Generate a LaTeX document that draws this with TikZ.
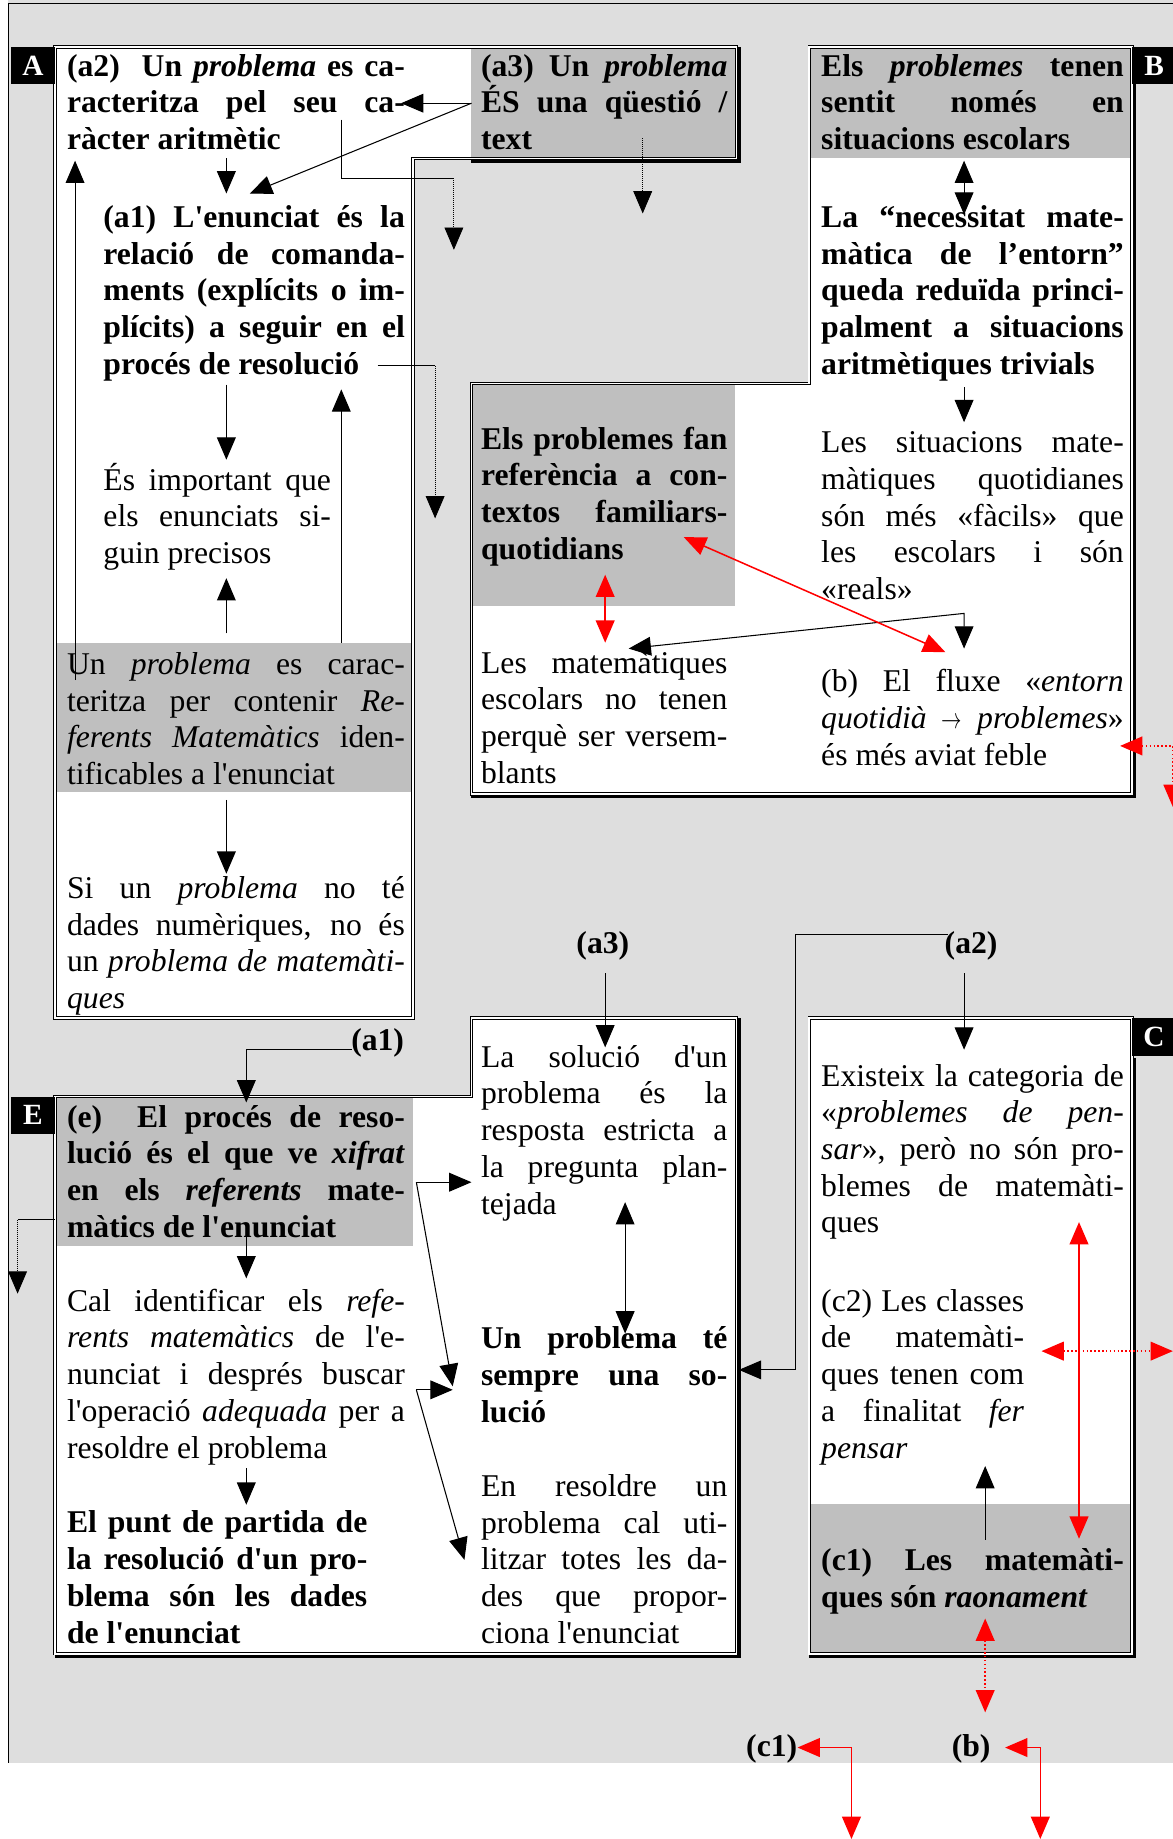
\documentclass[tikz,border=0pt]{standalone}
\usepackage{fontspec}
\setmainfont{Liberation Serif}[Ligatures=TeXOff]
\usepackage{tikz}
\usetikzlibrary{arrows.meta}

\definecolor{fons}{gray}{0.87}
\definecolor{gris}{gray}{0.75}

\tolerance=10000 \hbadness=10000 \hyphenpenalty=10000

\tikzset{
  txt/.style={anchor=base west, inner sep=0pt, text width=#1, align=justify,
    font=\fontsize{27}{31.3}\selectfont},
  txtb/.style={txt=#1, font=\fontsize{27}{31.3}\selectfont\bfseries},
  etiq/.style={fill=black, text=white, inner sep=0pt, minimum width=38pt,
    minimum height=32pt, font=\fontsize{25}{25}\selectfont\bfseries},
  crida/.style={anchor=base, inner sep=0pt, font=\fontsize{27}{31.3}\selectfont\bfseries},
  vora/.style={double, line width=0.8pt, double distance=1.4pt},
  ombra/.style={line width=2.6pt},
  fl/.style={line width=0.9pt, -{Triangle[length=19pt,width=16pt]}},
  dfl/.style={line width=0.9pt, {Triangle[length=19pt,width=16pt]}-{Triangle[length=19pt,width=16pt]}},
  vm/.style={red, line width=1.3pt},
}

\begin{document}
\begin{tikzpicture}[x=1pt,y=-1pt]
\useasboundingbox (0,0) rectangle (1000,1568);
\fill[fons] (7,0) rectangle (1000,1503);                          % fons
\draw[line width=1.2pt] (1000,3) -- (7,3) -- (7,1503);            %

% blocs A, B, E i C
\fill[white] (47,40) -- (628,40) -- (628,135) -- (352,135) -- (352,868) -- (47,868) -- cycle;
\fill[gris]  (402,40) rectangle (628,135);                        %(a3)
\fill[gris]  (47,548) rectangle (352,675);                        %
\fill[white] (690,40) -- (965,40) -- (965,677) -- (402,677) -- (402,327) -- (690,327) -- cycle;
\fill[gris]  (690,40) rectangle (965,135);                        %
\fill[gris]  (402,327) rectangle (627,517);                       %
\fill[white] (402,868) -- (628,868) -- (628,1410) -- (47,1410) -- (47,935) -- (402,935) -- cycle;
\fill[gris]  (47,935) rectangle (352,1062);                       %(e)
\fill[white] (690,868) rectangle (965,1410);                      %
\fill[gris]  (690,1282) rectangle (965,1410);                     %(c1)
\draw[vora]  (47,40) -- (628,40) -- (628,135) -- (352,135) -- (352,868) -- (47,868) -- cycle;
\draw[vora]  (690,40) -- (965,40) -- (965,677) -- (402,677) -- (402,327) -- (690,327) -- cycle;
\draw[vora]  (402,868) -- (628,868) -- (628,1410) -- (47,1410) -- (47,935) -- (402,935) -- cycle;
\draw[vora]  (690,868) rectangle (965,1410);                      %
\draw[ombra] (402,137.5) -- (630.5,137.5) -- (630.5,40);          %
\draw[ombra] (402,679.5) -- (967.5,679.5) -- (967.5,72);          %
\draw[ombra] (47,1412.5) -- (630.5,1412.5) -- (630.5,868);        %
\draw[ombra] (690,1412.5) -- (967.5,1412.5) -- (967.5,902);       %

\node[etiq] (A) at (28,56)   {A};
\node[etiq] (B) at (984,56)  {B};
\node[etiq] (C) at (984,884) {C};
\node[etiq] (E) at (28,951)  {E};

% bloc A
\node[txtb=288pt] (a2txt) at (57,65) {(a2)\ \ Un \textit{problema} es ca-\linebreak racteritza pel seu ca-\linebreak ràcter aritmètic};
\node[txtb=210pt] (a3txt) at (410,65) {(a3) Un \textit{problema}\linebreak ÉS una qüestió /\linebreak text};
\node[txtb=257pt] (a1txt) at (88,194) {(a1) L'enunciat és la\linebreak relació de comanda-\linebreak ments (explícits o im-\linebreak plícits) a seguir en el\linebreak procés de resolució};
\node[txt=194pt]  (precis) at (88,418) {És important que\linebreak els enunciats si-\linebreak guin precisos};
\node[txt=288pt]  (refer) at (57,575) {Un \textit{problema} es carac-\linebreak teritza per contenir \textit{Re-}\linebreak \textit{ferents Matemàtics} iden-\linebreak tificables a l'enunciat};
\node[txt=288pt]  (numer) at (57,766) {Si un \textit{problema} no té\linebreak dades numèriques, no és\linebreak un \textit{problema de matemàti-}\linebreak \textit{ques}};

% bloc B
\node[txtb=258pt] (btop) at (700,65) {Els \textit{problemes} tenen\linebreak sentit només en\linebreak situacions escolars};
\node[txtb=258pt] (necess) at (700,194) {La “necessitat mate-\linebreak màtica de l’entorn”\linebreak queda reduïda princi-\linebreak palment a situacions\linebreak aritmètiques trivials};
\node[txt=258pt]  (situa) at (700,386) {Les situacions mate-\linebreak màtiques quotidianes\linebreak són més «fàcils» que\linebreak les escolars i són\linebreak «reals»};
\node[txtb=210pt] (famil) at (410,383) {Els problemes fan\linebreak referència a con-\linebreak textos familiars-\linebreak quotidians};
\node[txt=210pt]  (escol) at (410,574) {Les matemàtiques\linebreak escolars no tenen\linebreak perquè ser versem-\linebreak blants};
\node[txt=258pt]  (fluxe) at (700,590) {(b) El fluxe «\textit{entorn}\linebreak \textit{quotidià} \scalebox{0.7}[1]{$\rightarrow$} \textit{problemes}»\linebreak és més aviat feble};

% crides
\node[crida] (la3) at (514,813) {(a3)};
\node[crida] (la2) at (828,813) {(a2)};
\node[crida] (la1) at (322,896) {(a1)};
\node[crida] (lc1) at (658,1498) {(c1)};
\node[crida] (lb)  at (828,1498) {(b)};

% bloc E
\node[txtb=288pt] (etxt) at (57,961) {(e)\ \ El procés de reso-\linebreak lució és el que ve \textit{xifrat}\linebreak en els \textit{referents} mate-\linebreak màtics de l'enunciat};
\node[txt=288pt]  (cal) at (57,1118) {Cal identificar els \textit{refe-}\linebreak \textit{rents matemàtics} de l'e-\linebreak nunciat i després buscar\linebreak l'operació \textit{adequada} per a\linebreak resoldre el problema};
\node[txtb=256pt] (punt) at (57,1307) {El punt de partida de\linebreak la resolució d'un pro-\linebreak blema són les dades\linebreak de l'enunciat};
\node[txt=210pt]  (solucio) at (410,910) {La solució d'un\linebreak problema és la\linebreak resposta estricta a\linebreak la pregunta plan-\linebreak tejada};
\node[txtb=210pt] (sempre) at (410,1150) {Un problema té\linebreak sempre una so-\linebreak lució};
\node[txt=210pt]  (resold) at (410,1276) {En resoldre un\linebreak problema cal uti-\linebreak litzar totes les da-\linebreak des que propor-\linebreak ciona l'enunciat};

% bloc C
\node[txt=258pt]  (exist) at (700,926) {Existeix la categoria de\linebreak «\textit{problemes de pen-}\linebreak \textit{sar}», però no són pro-\linebreak blemes de matemàti-\linebreak ques};
\node[txt=173pt]  (c2txt) at (700,1118) {(c2) Les classes\linebreak de matemàti-\linebreak ques tenen com\linebreak a finalitat \textit{fer}\linebreak \textit{pensar}};
\node[txtb=258pt] (c1txt) at (700,1339) {(c1) Les matemàti-\linebreak ques són \textit{raonament}};

% punts d'enllac
\coordinate (a3s) at (402,88);   \coordinate (a2ca) at (342,88);  \coordinate (a1a) at (213,165);
\coordinate (a2s) at (193,135);  \coordinate (a1t) at (193,165);
\coordinate (a2v) at (291,102);  \coordinate (a2c) at (291,152); \coordinate (a2d) at (387,152); \coordinate (a2e) at (387,213);
\coordinate (a3d) at (548,118);  \coordinate (a3e) at (548,182);
\coordinate (refl) at (64,580);  \coordinate (a2b) at (64,137);
\coordinate (a1r) at (322,312);  \coordinate (a1c) at (371,312); \coordinate (a1e) at (371,442);
\coordinate (a1b) at (193,328);  \coordinate (prT) at (193,392);
\coordinate (refR) at (291,548); \coordinate (a1u) at (291,332);
\coordinate (refT) at (193,540); \coordinate (prB) at (193,493);
\coordinate (refB) at (193,682); \coordinate (numT) at (193,745);
\coordinate (la1s) at (300,895); \coordinate (la1c) at (210,895); \coordinate (eT) at (210,940);
\coordinate (eL) at (47,1040);   \coordinate (eC) at (15,1040);   \coordinate (eD) at (15,1103);
\coordinate (eB) at (210,1047);  \coordinate (calT) at (210,1090);
\coordinate (calB) at (210,1252);\coordinate (puntT) at (210,1283);
\coordinate (k1) at (355,1008);  \coordinate (solL) at (402,1008); \coordinate (semA) at (386,1182);
\coordinate (k2) at (355,1185);  \coordinate (semB) at (386,1185); \coordinate (resA) at (396,1330);
\coordinate (la3s) at (516,830); \coordinate (solT) at (516,893);
\coordinate (solB) at (533,1025);\coordinate (semT) at (533,1137);
\coordinate (la2w) at (808,797); \coordinate (la2c) at (678,797); \coordinate (la2d) at (678,1168); \coordinate (semR) at (630,1168);
\coordinate (la2s) at (822,830); \coordinate (exT) at (822,895);
\coordinate (exB) at (920,1042); \coordinate (c1T) at (920,1312);
\coordinate (c2R) at (888,1152); \coordinate (vR) at (1000,1152);
\coordinate (c1u) at (840,1313); \coordinate (c2B) at (840,1250);
\coordinate (c1B) at (840,1380); \coordinate (c1d) at (840,1460);
\coordinate (lc1t) at (680,1490);\coordinate (lc1c) at (726,1490); \coordinate (lc1d) at (726,1568);
\coordinate (lbt) at (857,1490); \coordinate (lbc) at (887,1490);  \coordinate (lbd) at (887,1568);
\coordinate (btB) at (822,137);  \coordinate (neT) at (822,183);
\coordinate (neB) at (822,330);  \coordinate (siT) at (822,360);
\coordinate (esT) at (536,553);  \coordinate (siB) at (822,523);  \coordinate (flT) at (822,553);
\coordinate (faR) at (583,458);  \coordinate (flL) at (806,556);
\coordinate (faB) at (516,490);  \coordinate (esU) at (516,548);
\coordinate (flR) at (955,636);  \coordinate (vF) at (1000,636);  \coordinate (vG) at (1000,688);

% fletxes negres
\draw[fl] (a3s) -- (a2ca);
\draw[fl] (a3s) -- (a1a);
\draw[fl] (a2s) -- (a1t);
\draw[line width=0.9pt] (a2v) -- (a2c) -- (a2d);
\draw[fl, line width=0.7pt, densely dotted] (a2d) -- (a2e);
\draw[fl, line width=0.7pt, densely dotted] (a3d) -- (a3e);
\draw[fl] (refl) -- (a2b);
\draw[line width=0.9pt] (a1r) -- (a1c);
\draw[fl, line width=0.7pt, densely dotted] (a1c) -- (a1e);
\draw[fl] (a1b) -- (prT);
\draw[fl] (refR) -- (a1u);
\draw[fl] (refT) -- (prB);
\draw[fl] (refB) -- (numT);
\draw[fl] (la1s) -- (la1c) -- (eT);
\draw[line width=0.9pt] (eL) -- (eC);
\draw[fl, line width=0.7pt, densely dotted] (eC) -- (eD);
\draw[fl] (eB) -- (calT);
\draw[fl] (calB) -- (puntT);
\draw[fl] (k1) -- (solL);
\draw[fl] (k1) -- (semA);
\draw[fl] (k2) -- (semB);
\draw[fl] (k2) -- (resA);
\draw[fl] (la3s) -- (solT);
\draw[dfl] (solB) -- (semT);
\draw[fl] (la2w) -- (la2c) -- (la2d) -- (semR);
\draw[fl] (la2s) -- (exT);
\draw[fl] (c1u) -- (c2B);
\draw[dfl] (btB) -- (neT);
\draw[fl] (neB) -- (siT);
\draw[dfl] (esT) -- (siB) -- (flT);

% fletxes vermelles
\draw[dfl, vm] (faR) -- (flL);
\draw[dfl, vm] (faB) -- (esU);
\draw[dfl, vm] (exB) -- (c1T);
\draw[dfl, vm, dotted] (c2R) -- (vR);
\draw[dfl, vm, dotted] (c1B) -- (c1d);
\draw[dfl, vm, dotted] (flR) -- (vF) -- (vG);
\draw[dfl, vm] (lc1t) -- (lc1c) -- (lc1d);
\draw[dfl, vm] (lbt) -- (lbc) -- (lbd);
\end{tikzpicture}
\end{document}
